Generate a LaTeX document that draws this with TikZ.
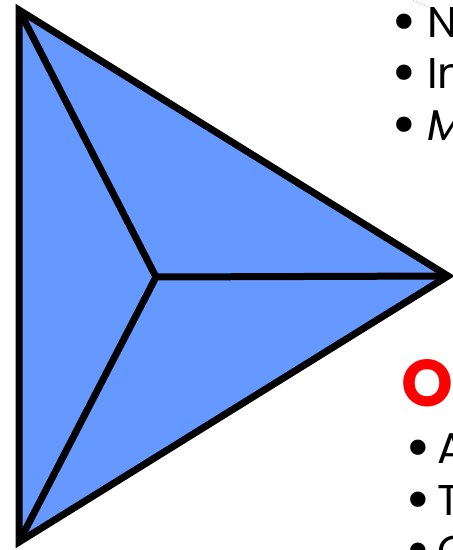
\documentclass[tikz,border=0pt]{standalone}
\usepackage{fontspec}
\setmainfont{Poppins}
\definecolor{triblue}{RGB}{102,153,255}
\definecolor{headred}{RGB}{255,0,0}
\newcommand{\bigbul}[1]{\makebox[#1][l]{\raisebox{-5pt}{\scalebox{1.45}{•}}}}
\tikzset{
  edge/.style={draw=black, line width=7pt, line join=miter},
  bullettext/.style={anchor=base west, inner sep=0pt, font=\fontsize{43}{43}\selectfont},
  heading/.style={anchor=base west, inner sep=0pt, text=headred, font=\bfseries\fontsize{66}{66}\selectfont},
}
\begin{document}
\begin{tikzpicture}[x=1pt,y=-1pt]
\useasboundingbox (0,0) rectangle (453,550);
\clip (0,0) rectangle (453,550);
\coordinate (tl) at (19,10);
\coordinate (bl) at (19,542);
\coordinate (rt) at (448,276);
\coordinate (c) at (156,277);
\fill[triblue] (tl) -- (rt) -- (bl) -- cycle;
\draw[edge] (tl) -- (rt) -- (bl) -- cycle;
\draw[edge] (c) -- (tl);
\draw[edge] (c) -- (bl);
\draw[edge] (c) -- (rt);
\draw[magenta!40, dotted, line width=1pt] (413,0) -- (428,7);
\node[bullettext] (n1) at (391,37) {\bigbul{36pt}N};
\node[bullettext] (n2) at (391,88) {\bigbul{36pt}In};
\node[bullettext] (n3) at (391,140) {\bigbul{36pt}\textit{M}};
\node[heading] (o) at (401,406) {O};
\node[bullettext] (a1) at (405,463) {\bigbul{32pt}A};
\node[bullettext] (a2) at (405,515) {\bigbul{32pt}T};
\node[bullettext] (a3) at (405,566) {\bigbul{32pt}C};
\end{tikzpicture}
\end{document}
